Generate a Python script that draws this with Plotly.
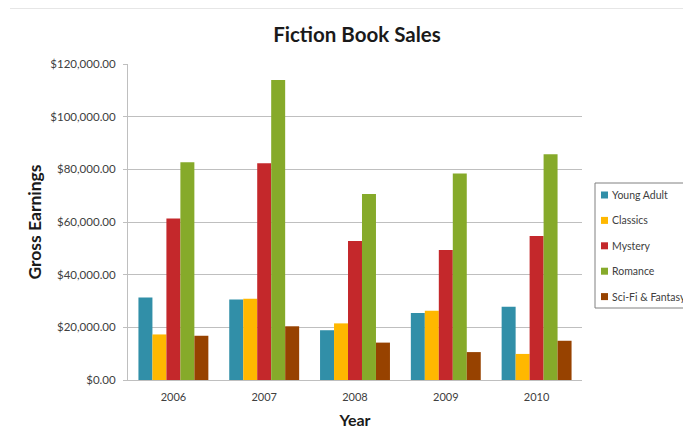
import plotly.graph_objects as go

years = ["2006", "2007", "2008", "2009", "2010"]
young_adult = [31300, 30600, 18900, 25400, 27800]
classics = [17300, 30900, 21500, 26300, 9900]
mystery = [61300, 82300, 52800, 49400, 54700]
romance = [82700, 113900, 70600, 78400, 85700]
scifi = [16800, 20400, 14200, 10600, 14900]

names = ["Young Adult", "Classics", "Mystery", "Romance", "Sci-Fi & Fantasy"]
colors = ["#318FA8", "#FFB800", "#C4282B", "#86AA2A", "#974200"]
values = [young_adult, classics, mystery, romance, scifi]

fig = go.Figure()
for name, vals, color in zip(names, values, colors):
    fig.add_trace(go.Bar(x=years, y=vals, name=name, marker_color=color,
                         marker_line_width=0, showlegend=False))

font = "Lato, Open Sans, sans-serif"
# page offset of 8px (browser body margin) is compensated in margins
PX0, PW, PY0, PH = 128, 454, 380, 316  # plot area in page pixels
def px(x):
    return (x - PX0) / PW
def py(y):
    return (PY0 - y) / PH

fig.update_layout(
    width=691, height=438,
    margin=dict(l=120, r=117, t=56, b=66, autoexpand=False),
    paper_bgcolor="white", plot_bgcolor="white",
    barmode="group", bargap=0.23, bargroupgap=0,
    font=dict(family=font, color="#404040"),
    title=dict(text="<b>Fiction Book Sales</b>", x=px(357), xanchor="center",
               xref="paper", y=1 - 27/438, yref="container", yanchor="middle",
               font=dict(size=20.5, color="#1a1a1a", family=font)),
    xaxis=dict(showline=True, linecolor="#BFBFBF", linewidth=1,
               tickfont=dict(size=11, color="#404040"), ticklabelstandoff=7,
               title=dict(text="<b>Year</b>", font=dict(size=16, color="#1a1a1a"), standoff=12),
               ticks=""),
    yaxis=dict(range=[0, 120000], dtick=20000, tickformat="$,.2f",
               showgrid=True, gridcolor="#BFBFBF", gridwidth=1,
               showline=True, linecolor="#BFBFBF", linewidth=1,
               ticks="outside", ticklen=4, tickcolor="#BFBFBF",
               tickfont=dict(size=11.5, color="#404040"), ticklabelstandoff=5,
               title=dict(text="<b>Gross Earnings</b>", font=dict(size=17.5, color="#1a1a1a"), standoff=4),
               zeroline=False),
)

# legend box (drawn to match the reference's compact legend)
fig.add_shape(type="rect", xref="paper", yref="paper",
              x0=px(595), x1=px(705), y0=py(308), y1=py(183),
              line=dict(color="#808080", width=1), fillcolor="rgba(0,0,0,0)")
for i, (name, color) in enumerate(zip(names, colors)):
    cy = 195 + i * 25.4
    fig.add_shape(type="rect", xref="paper", yref="paper",
                  x0=px(601), x1=px(608), y0=py(cy + 3.5), y1=py(cy - 3.5),
                  line=dict(width=0), fillcolor=color)
    fig.add_annotation(xref="paper", yref="paper", x=px(610), y=py(cy),
                       text=name, showarrow=False, xanchor="left", yanchor="middle",
                       font=dict(size=10.5, color="#404040", family=font))

fig.add_shape(type="line", xref="paper", yref="paper", x0=px(10), x1=px(700),
              y0=py(8.5), y1=py(8.5), line=dict(color="#E6E6E6", width=1))
fig.write_html("out.html")
